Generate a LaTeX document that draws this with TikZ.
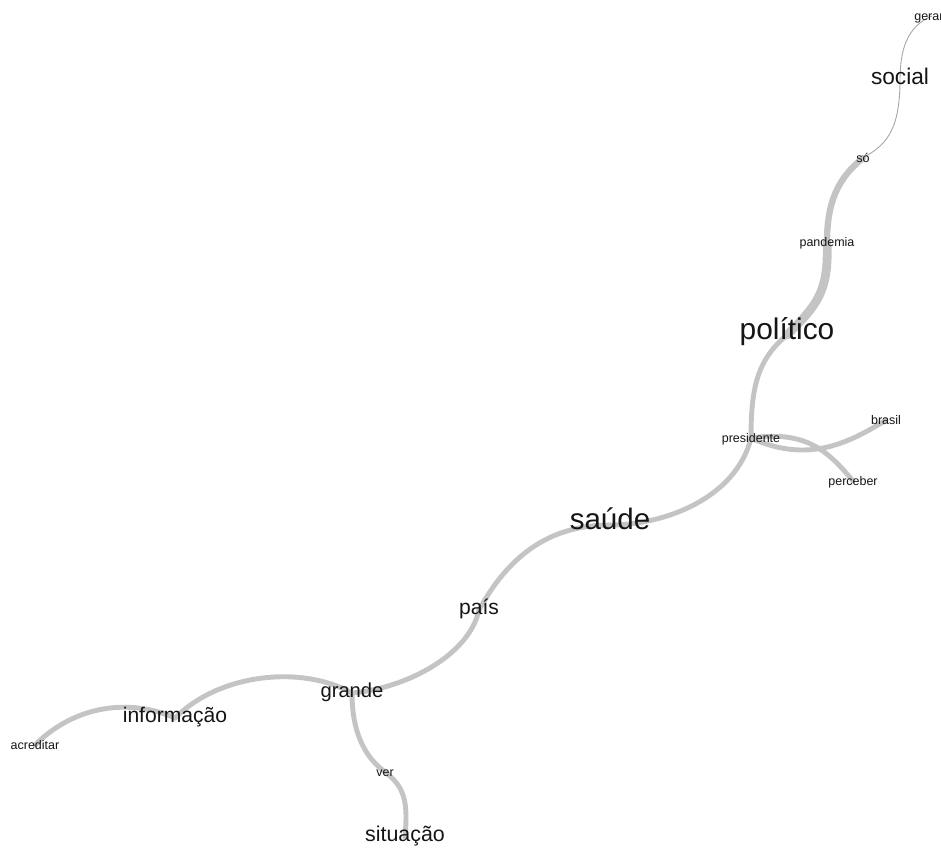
\documentclass[tikz,border=0pt]{standalone}
\usepackage{fontspec}
\setmainfont{Liberation Sans}
\usepackage{xcolor}
\definecolor{edgegrey}{HTML}{C4C4C4}
\definecolor{faintgrey}{HTML}{A6A6A6}
\definecolor{inkblack}{HTML}{151515}
\usepackage{tikz}
\usetikzlibrary{backgrounds}

\tikzset{
  word/.style={inner sep=0pt, text height=1ex, text depth=0pt, text=inkblack},
  tinyword/.style={word, font=\fontsize{7.1}{8}\selectfont},
  midword/.style={word, font=\fontsize{12}{14}\selectfont},
  bigword/.style={word, font=\fontsize{17}{20}\selectfont},
  link/.style={draw=edgegrey, line width=2.8pt, line cap=round},
  thinlink/.style={draw=faintgrey, line width=0.5pt}
}

\begin{document}
\begin{tikzpicture}[x=0.2mm, y=-0.2mm]
  \useasboundingbox (0,0) rectangle (941,852);

  % words
  \node[tinyword] (geram) at (932,16) {geram};
  \node[word, font=\fontsize{12.9}{15}\selectfont] (social) at (900,80) {social};
  \node[tinyword] (so) at (863,158) {só};
  \node[tinyword] (pandemia) at (827,242) {pandemia};
  \node[bigword] (politico) at (787,335) {político};
  \node[tinyword] (presidente) at (751,438) {presidente};
  \node[tinyword] (brasil) at (886,420) {brasil};
  \node[tinyword] (perceber) at (853,481) {perceber};
  \node[bigword, font=\fontsize{16.8}{20}\selectfont] (saude) at (610,525) {saúde};
  \node[midword] (pais) at (479,610) {país};
  \node[midword, font=\fontsize{11.5}{14}\selectfont] (grande) at (352,693) {grande};
  \node[midword] (informacao) at (175,718) {informação};
  \node[tinyword] (acreditar) at (35,745) {acreditar};
  \node[tinyword] (ver) at (385,772) {ver};
  \node[midword, font=\fontsize{12.2}{14}\selectfont] (situacao) at (405,837) {situação};

  % links
  \begin{scope}[on background layer]
    \draw[thinlink] (geram.center) .. controls +(-25,10) and +(0,-30) .. (social.center);
    \draw[thinlink] (social.center) .. controls +(0,55) and +(20,-12) .. (so.center);
    \draw[link, line width=3.6pt] (so.center) .. controls +(-25,20) and +(0,-40) .. (pandemia.center);
    \draw[link, line width=5pt] (pandemia.center) .. controls +(2,50) and +(30,-30) .. (politico.center);
    \draw[link] (politico.center) .. controls +(-30,25) and +(0,-50) .. (presidente.center);
    \draw[link] (presidente.center) .. controls +(55,25) and +(-40,25) .. (brasil.center);
    \draw[link] (presidente.center) .. controls +(55,-8) and +(-25,-30) .. (perceber.center);
    \draw[link] (presidente.center) .. controls +(-15,60) and +(55,0) .. (saude.center);
    \draw[link] (saude.center) .. controls +(-60,0) and +(30,-55) .. (pais.center);
    \draw[link] (pais.center) .. controls +(-10,45) and +(55,-5) .. (grande.center);
    \draw[link] (grande.center) .. controls +(-50,-28) and +(45,-45) .. (informacao.center);
    \draw[link] (informacao.center) .. controls +(-45,-20) and +(40,-40) .. (acreditar.center);
    \draw[link] (grande.center) .. controls +(0,40) and +(-20,-15) .. (ver.center);
    \draw[link] (ver.center) .. controls +(20,15) and +(3,-35) .. (situacao.center);
  \end{scope}
\end{tikzpicture}
\end{document}
